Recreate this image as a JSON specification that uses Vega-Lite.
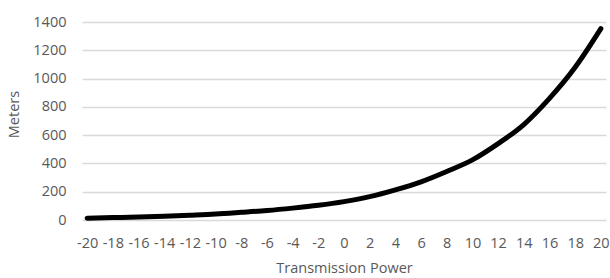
{
  "$schema": "https://vega.github.io/schema/vega-lite/v6.json",
  "autosize": "none",
  "width": 524,
  "height": 198,
  "padding": {"left": 82, "top": 22, "right": 4, "bottom": 58},
  "background": "white",
  "config": {
    "view": {"stroke": null},
    "font": "Open Sans",
    "axis": {
      "labelFont": "Open Sans",
      "titleFont": "Open Sans",
      "labelColor": "#595959",
      "titleColor": "#595959",
      "labelFontSize": 14.5,
      "titleFontSize": 14.5,
      "titleFontWeight": "normal",
      "gridColor": "#d9d9d9",
      "gridWidth": 1.3,
      "ticks": false,
      "domain": false
    }
  },
  "data": {
    "values": [
      {"power": -20, "meters": 13},
      {"power": -18, "meters": 17},
      {"power": -16, "meters": 21},
      {"power": -14, "meters": 27},
      {"power": -12, "meters": 34},
      {"power": -10, "meters": 42},
      {"power": -8, "meters": 54},
      {"power": -6, "meters": 67},
      {"power": -4, "meters": 84},
      {"power": -2, "meters": 104},
      {"power": 0, "meters": 130},
      {"power": 2, "meters": 165},
      {"power": 4, "meters": 213},
      {"power": 6, "meters": 270},
      {"power": 8, "meters": 343},
      {"power": 10, "meters": 425},
      {"power": 12, "meters": 540},
      {"power": 14, "meters": 675},
      {"power": 16, "meters": 860},
      {"power": 18, "meters": 1080},
      {"power": 20, "meters": 1353}
    ]
  },
  "mark": {"type": "line", "color": "black", "strokeWidth": 5, "strokeCap": "round", "strokeJoin": "round", "interpolate": "monotone"},
  "encoding": {
    "x": {
      "field": "power",
      "type": "ordinal",
      "sort": "ascending",
      "scale": {"type": "point", "padding": 0.2},
      "axis": {
        "title": "Transmission Power",
        "labelAngle": 0,
        "labelOverlap": false,
        "labelPadding": 16,
        "labelBaseline": "top",
        "grid": false,
        "titleY": 48,
        "titleBaseline": "middle"
      }
    },
    "y": {
      "field": "meters",
      "type": "quantitative",
      "scale": {"domain": [0, 1400], "nice": false},
      "axis": {
        "title": "Meters",
        "format": "d",
        "values": [0, 200, 400, 600, 800, 1000, 1200, 1400],
        "labelPadding": 16,
        "titleX": -68,
        "titleY": 92,
        "titleAngle": -90,
        "titleAlign": "center",
        "titleBaseline": "middle"
      }
    }
  }
}
